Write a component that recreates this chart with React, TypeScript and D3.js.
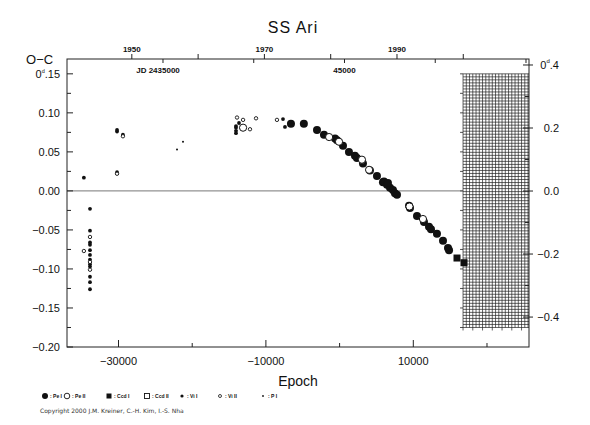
import React from "react";
import * as d3 from "d3";

// ---- data (epoch, O-C in days) ----
const peI: [number, number][] = [
  [-6600, 0.086], [-4850, 0.086], [-3070, 0.078], [-2120, 0.072], [-620, 0.067],
  [-350, 0.065], [460, 0.058], [1270, 0.05], [2080, 0.045], [2350, 0.042],
  [3170, 0.035], [4120, 0.026], [5070, 0.019], [5880, 0.011], [6020, 0.012],
  [6430, 0.008], [6840, 0.004], [7240, 0.001], [7510, -0.003], [7790, -0.005],
  [6560, 0.01], [9420, -0.019], [9550, -0.022], [10500, -0.032], [11450, -0.04],
  [12130, -0.046], [12400, -0.049], [13210, -0.055], [14030, -0.064],
  [14710, -0.073], [14850, -0.076],
];
const peII: [number, number][] = [
  [-13100, 0.081], [-1420, 0.069], [-80, 0.063], [3030, 0.04], [4000, 0.027],
  [11310, -0.036], [9480, -0.02],
];
const ccdI: [number, number][] = [[15930, -0.086], [16880, -0.092]];
const viI: [number, number][] = [
  [-34700, 0.017], [-33870, -0.023], [-33870, -0.051], [-33870, -0.066],
  [-33870, -0.069], [-33870, -0.076], [-33870, -0.082], [-33870, -0.088],
  [-33870, -0.094], [-33870, -0.097], [-33870, -0.11], [-33870, -0.117],
  [-33870, -0.126], [-30200, 0.078], [-30200, 0.076], [-30200, 0.024],
  [-29400, 0.072], [-13650, 0.087], [-14060, 0.083], [-14060, 0.081],
  [-14060, 0.077], [-14060, 0.074], [-7680, 0.092], [-7410, 0.082],
];
const viII: [number, number][] = [
  [-33870, -0.059], [-33870, -0.091], [-33870, -0.101], [-34700, -0.077],
  [-30200, 0.022], [-29400, 0.07], [-13920, 0.094], [-13100, 0.091],
  [-12160, 0.079], [-11340, 0.093], [-8500, 0.091],
];
const pI: [number, number][] = [[-22060, 0.053], [-21250, 0.063]];

const xTicksMajor = [-30000, -10000, 10000];
const xTicksMinor = [-20000, 0, 20000];
const yTicksMajor = [-0.2, -0.15, -0.1, -0.05, 0, 0.05, 0.1, 0.15];
const yTicksMinor = [-0.175, -0.125, -0.075, -0.025, 0.025, 0.075, 0.125];
const y2TicksMajor = [-0.4, -0.2, 0, 0.2, 0.4];
const y2TicksMinor = [-0.3, -0.1, 0.1, 0.3];
const yearTicks = [1950, 1960, 1970, 1980, 1990, 2000];
const yearLabels = [1950, 1970, 1990];
const jdTicks = [2435000, 2440000, 2445000, 2450000, 2455000];
const legendItems = ["Pe I", "Pe II", "Ccd I", "Ccd II", "Vi I", "Vi II", "P I"];
const gridStartEpoch = 16750;
const gridTop = 0.15;
const gridBottom = -0.175;

const L = 67, R = 529, T = 59, B = 347;
const x = d3.scaleLinear().domain([-36990, 25700]).range([L, R]);
const y = d3.scaleLinear().domain([-0.2, 0.169]).range([B, T]);
const y2 = d3.scaleLinear().domain([-0.495, 0.419]).range([B, T]);
const jd = d3.scaleLinear().domain([2429711, 2455166]).range([L, R]);
const yearToJD = (yr: number) => 2433282.5 + (yr - 1950) * 365.25;

const FONT = "'Liberation Sans', Arial, sans-serif";
const fmt = (v: number) => (v < 0 ? "\u2212" : "") + Math.abs(v).toFixed(2);
const fmt1 = (v: number) => (v < 0 ? "\u2212" : "") + Math.abs(v).toFixed(1);

export default function App() {
  const gx0 = x(gridStartEpoch);
  const gyT = y(gridTop);
  const gyB = y(gridBottom);
  const vLines = d3.range(gx0, R, 3.25);
  const hLines = d3.range(gyT, gyB + 0.1, (gyB - gyT) / 84);
  const gridTicks = d3.range(gridTop, gridBottom - 0.001, -0.025);
  const legX = [45, 67, 109, 147, 182, 220, 263];

  return (
    <svg width={590} height={425} style={{ position: "absolute", left: 0, top: 0, background: "#fff" }}
      fontFamily={FONT}>
      {/* title */}
      <text x={293} y={33} textAnchor="middle" fontSize={16} letterSpacing={1} fill="#111">SS  Ari</text>

      {/* grid region */}
      <g stroke="#222" strokeWidth={0.7}>
        {vLines.map((v, i) => (
          <line key={"v" + i} x1={v} x2={v} y1={gyT} y2={gyB + (i % 3 === 0 ? 3 : 0)} />
        ))}
        {hLines.map((h, i) => (
          <line key={"h" + i} x1={gx0} x2={R} y1={h} y2={h} />
        ))}
        {gridTicks.map((t, i) => (
          <line key={"gt" + i} x1={gx0 - 3} x2={gx0} y1={y(t)} y2={y(t)} strokeWidth={0.8} />
        ))}
      </g>

      {/* zero line */}
      <line x1={L} x2={gx0} y1={y(0)} y2={y(0)} stroke="#555" strokeWidth={0.8} />

      {/* frame */}
      <rect x={L} y={T} width={R - L} height={B - T} fill="none" stroke="#222" strokeWidth={1} />

      {/* left axis */}
      <g stroke="#222" strokeWidth={1}>
        {yTicksMajor.map((t) => <line key={"ym" + t} x1={L} x2={L + 6} y1={y(t)} y2={y(t)} />)}
        {yTicksMinor.map((t) => <line key={"yn" + t} x1={L} x2={L + 4} y1={y(t)} y2={y(t)} />)}
      </g>
      <g fontSize={11} fill="#111" textAnchor="end">
        {yTicksMajor.filter((t) => t < 0.14).map((t) => (
          <text key={"yl" + t} x={60} y={y(t) + 4}>{fmt(t)}</text>
        ))}
        <text x={60} y={y(0.15) + 4.5}>0<tspan fontSize={5.5} dy={-5}>d</tspan><tspan dy={5}>.15</tspan></text>
      </g>
      <text x={26} y={64} fontSize={13} fill="#111">O{"\u2212"}C</text>

      {/* right axis */}
      <g stroke="#222" strokeWidth={1}>
        {y2TicksMajor.map((t) => <line key={"r" + t} x1={R} x2={R - 6} y1={y2(t)} y2={y2(t)} />)}
        {y2TicksMinor.map((t) => <line key={"rn" + t} x1={R} x2={R - 4} y1={y2(t)} y2={y2(t)} />)}
        {y2TicksMajor.map((t) => <line key={"ro" + t} x1={R} x2={R + 4} y1={y2(t)} y2={y2(t)} />)}
      </g>
      <g fontSize={11} fill="#111" textAnchor="end">
        {y2TicksMajor.filter((t) => t < 0.3).map((t) => (
          <text key={"rl" + t} x={559} y={y2(t) + 4}>{fmt1(t)}</text>
        ))}
        <text x={559} y={y2(0.4) + 4}>0<tspan fontSize={6} dy={-6}>d</tspan><tspan dy={6}>.4</tspan></text>
      </g>

      {/* bottom axis */}
      <g stroke="#222" strokeWidth={1}>
        {xTicksMajor.map((t) => <line key={"xm" + t} x1={x(t)} x2={x(t)} y1={B} y2={B - 7} />)}
        {xTicksMinor.map((t) => <line key={"xn" + t} x1={x(t)} x2={x(t)} y1={B} y2={B - 4} />)}
      </g>
      <g fontSize={11} fill="#111" textAnchor="middle">
        {xTicksMajor.map((t) => (
          <text key={"xl" + t} x={x(t)} y={365}>{(t < 0 ? "\u2212" : "") + Math.abs(t)}</text>
        ))}
      </g>
      <text x={298} y={386} fontSize={14} textAnchor="middle" fill="#111">Epoch</text>

      {/* top axis */}
      <g stroke="#222" strokeWidth={1}>
        {yearTicks.map((t) => (
          <line key={"yt" + t} x1={jd(yearToJD(t))} x2={jd(yearToJD(t))} y1={T} y2={T - 5} />
        ))}
        {jdTicks.map((t) => <line key={"jt" + t} x1={jd(t)} x2={jd(t)} y1={T} y2={T + 4} />)}
      </g>
      <g fontSize={8} fontWeight="bold" fill="#111" textAnchor="middle">
        {yearLabels.map((t) => (
          <text key={"ytl" + t} x={jd(yearToJD(t))} y={52}>{t}</text>
        ))}
        <text x={jd(2435000) - 5} y={73}>JD  2435000</text>
        <text x={jd(2445000)} y={73}>45000</text>
      </g>

      {/* data */}
      <g>
        {viI.map((d, i) => <circle key={"vi" + i} cx={x(d[0])} cy={y(d[1])} r={1.9} fill="#111" />)}
        {viII.map((d, i) => (
          <circle key={"vii" + i} cx={x(d[0])} cy={y(d[1])} r={1.7} fill="#fff" stroke="#111" strokeWidth={0.9} />
        ))}
        {pI.map((d, i) => <circle key={"p" + i} cx={x(d[0])} cy={y(d[1])} r={1} fill="#111" />)}
        {peI.map((d, i) => <circle key={"pe" + i} cx={x(d[0])} cy={y(d[1])} r={4} fill="#111" />)}
        {peII.map((d, i) => (
          <circle key={"peii" + i} cx={x(d[0])} cy={y(d[1])} r={3.6} fill="#fff" stroke="#111" strokeWidth={1} />
        ))}
        {ccdI.map((d, i) => (
          <rect key={"c" + i} x={x(d[0]) - 3.5} y={y(d[1]) - 3.5} width={7} height={7} fill="#111" />
        ))}
      </g>

      {/* legend */}
      <g>
        <circle cx={legX[0]} cy={396} r={3} fill="#111" />
        <circle cx={legX[1]} cy={396} r={2.8} fill="#fff" stroke="#111" strokeWidth={0.9} />
        <rect x={legX[2] - 2.5} y={393.5} width={5} height={5} fill="#111" />
        <rect x={legX[3] - 2.5} y={393.5} width={5} height={5} fill="#fff" stroke="#111" strokeWidth={0.9} />
        <circle cx={legX[4]} cy={396} r={1.6} fill="#111" />
        <circle cx={legX[5]} cy={396} r={1.5} fill="#fff" stroke="#111" strokeWidth={0.8} />
        <circle cx={legX[6]} cy={396} r={0.9} fill="#111" />
        {legendItems.map((s, i) => (
          <text key={"lg" + i} x={legX[i] + 5} y={398} fontSize={5} fontWeight="bold" fill="#111">
            {" : " + s}
          </text>
        ))}
      </g>
      <text x={40} y={413} fontSize={6} fontFamily="'DejaVu Sans', Verdana, sans-serif" fill="#333">
        Copyright 2000 J.M. Kreiner, C.-H. Kim, I.-S. Nha
      </text>
    </svg>
  );
}
